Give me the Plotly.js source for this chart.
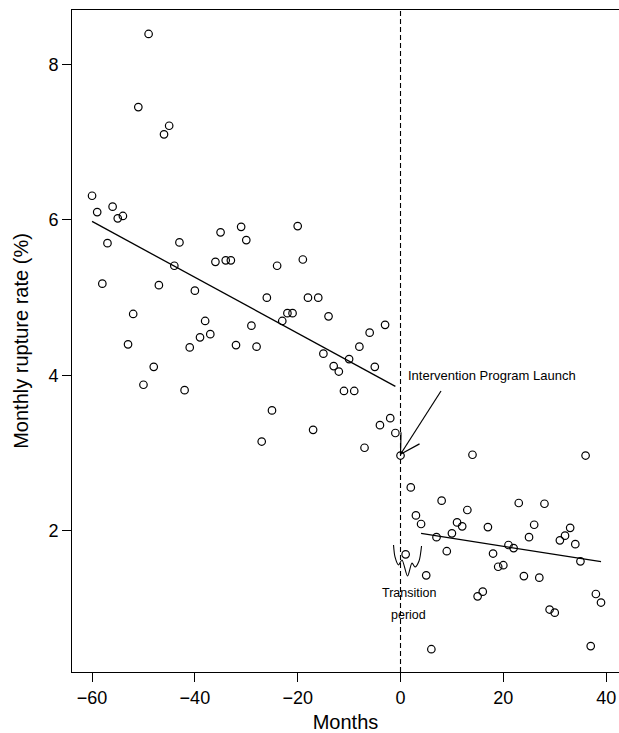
<!DOCTYPE html>
<html>
<head>
<meta charset="utf-8">
<script src="https://cdn.plot.ly/plotly-3.0.1.min.js"></script>
<style>
html,body{margin:0;padding:0;background:#fff;}
#chart{width:619px;height:733px;}
</style>
</head>
<body>
<div id="chart"></div>
<script>
// ---- Data ----
var preMonths = [-60,-59,-58,-57,-56,-55,-54,-53,-52,-51,-50,-49,-48,-47,-46,-45,-44,-43,-42,-41,
  -40,-39,-38,-37,-36,-35,-34,-33,-32,-31,-30,-29,-28,-27,-26,-25,-24,-23,-22,-21,
  -20,-19,-18,-17,-16,-15,-14,-13,-12,-11,-10,-9,-8,-7,-6,-5,-4,-3,-2,-1,0];
var preRates = [6.31,6.10,5.18,5.70,6.17,6.02,6.05,4.40,4.79,7.45,3.88,8.39,4.11,5.16,7.10,7.21,5.41,5.71,3.81,4.36,
  5.09,4.49,4.70,4.53,5.46,5.84,5.48,5.48,4.39,5.91,5.74,4.64,4.37,3.15,5.00,3.55,5.41,4.70,4.80,4.80,
  5.92,5.49,5.00,3.30,5.00,4.28,4.76,4.12,4.05,3.80,4.21,3.80,4.37,3.07,4.55,4.11,3.36,4.65,3.45,3.26,2.97];

var postMonths = [1,2,3,4,5,6,7,8,9,10,11,12,13,14,15,16,17,18,19,20,
  21,22,23,24,25,26,27,28,29,30,31,32,33,34,35,36,37,38,39];
var postRates = [1.70,2.56,2.20,2.09,1.43,0.48,1.92,2.39,1.74,1.97,2.11,2.06,2.27,2.98,1.16,1.22,2.05,1.71,1.54,1.56,
  1.82,1.78,2.36,1.42,1.92,2.08,1.40,2.35,0.99,0.95,1.88,1.94,2.04,1.83,1.61,2.97,0.52,1.19,1.08];

// fitted trend lines (end points)
var preFitMonths = [-60, -1];
var preFitRates = [5.98, 3.86];
var postFitMonths = [4, 39];
var postFitRates = [1.97, 1.605];

var xTicks = [-60, -40, -20, 0, 20, 40];
var yTicks = [2, 4, 6, 8];

var xTitle = "Months";
var yTitle = "Monthly rupture rate (%)";
var launchLabel = "Intervention Program Launch";
var transitionLabel1 = "Transition";
var transitionLabel2 = "period";

// annotation geometry (data coordinates)
var arrowTail = [7.88, 3.80];
var arrowTip = [0, 2.986];
var arrowHead1 = [0.1, 3.27];
var arrowHead2 = [3.7, 3.12];
var braceX = [-1.36,-1.07,-0.39,0.29,1.36,2.24,2.82,3.60,4.09];
var braceY = [1.82,1.666,1.563,1.627,1.421,1.588,1.537,1.614,1.807];

var FONT = '"Liberation Sans", Arial, Helvetica, sans-serif';

var markerStyle = {symbol:'circle-open', size:7.5, color:'#000', line:{width:1.2, color:'#000'}};

var traces = [
  {x: preMonths, y: preRates, type:'scatter', mode:'markers', marker: markerStyle, hoverinfo:'skip'},
  {x: postMonths, y: postRates, type:'scatter', mode:'markers', marker: markerStyle, hoverinfo:'skip'},
  {x: preFitMonths, y: preFitRates, type:'scatter', mode:'lines', line:{color:'#000', width:1.3}},
  {x: postFitMonths, y: postFitRates, type:'scatter', mode:'lines', line:{color:'#000', width:1.3}},
  {x: [arrowTail[0], arrowTip[0], null, arrowHead1[0], arrowTip[0], arrowHead2[0]],
   y: [arrowTail[1], arrowTip[1], null, arrowHead1[1], arrowTip[1], arrowHead2[1]],
   type:'scatter', mode:'lines', line:{color:'#000', width:1.2}, connectgaps:false},
  {x: braceX, y: braceY, type:'scatter', mode:'lines', line:{color:'#000', width:1.1, shape:'spline', smoothing:0.8}}
];

var layout = {
  width: 619, height: 733,
  margin: {l:72, r:0, t:10, b:61},
  paper_bgcolor:'#fff', plot_bgcolor:'#fff',
  showlegend:false,
  font:{family:FONT, color:'#000', size:18},
  xaxis:{
    range:[-63.9, 42.5], tickmode:'array', tickvals:xTicks,
    ticks:'outside', ticklen:9, tickwidth:1, tickcolor:'#000',
    showline:true, linecolor:'#000', linewidth:1, mirror:true,
    showgrid:false, zeroline:false,
    tickfont:{family:FONT, size:18, color:'#000'},
    title:{text:xTitle, font:{family:FONT, size:20, color:'#000'}, standoff:8}
  },
  yaxis:{
    range:[0.187, 8.698], tickmode:'array', tickvals:yTicks,
    ticks:'outside', ticklen:9, tickwidth:1, tickcolor:'#000',
    showline:true, linecolor:'#000', linewidth:1, mirror:true,
    showgrid:false, zeroline:false,
    tickfont:{family:FONT, size:18, color:'#000'},
    title:{text:yTitle, font:{family:FONT, size:20, color:'#000'}, standoff:14}
  },
  shapes:[
    {type:'line', xref:'x', yref:'y domain', x0:0, x1:0, y0:0, y1:1,
     line:{color:'#000', width:1.1, dash:'5px,3px'}}
  ],
  annotations:[
    {text:launchLabel, x:1.0, y:3.993, xref:'x', yref:'y', xanchor:'left', yanchor:'middle',
     showarrow:false, font:{family:FONT, size:13, color:'#000'}},
    {text:transitionLabel1, x:1.65, y:1.203, xref:'x', yref:'y', xanchor:'center', yanchor:'middle',
     showarrow:false, font:{family:FONT, size:12.5, color:'#000'}},
    {text:transitionLabel2, x:1.65, y:0.92, xref:'x', yref:'y', xanchor:'center', yanchor:'middle',
     showarrow:false, font:{family:FONT, size:12.5, color:'#000'}}
  ]
};

Plotly.newPlot('chart', traces, layout, {staticPlot:true, displayModeBar:false});
</script>
</body>
</html>
